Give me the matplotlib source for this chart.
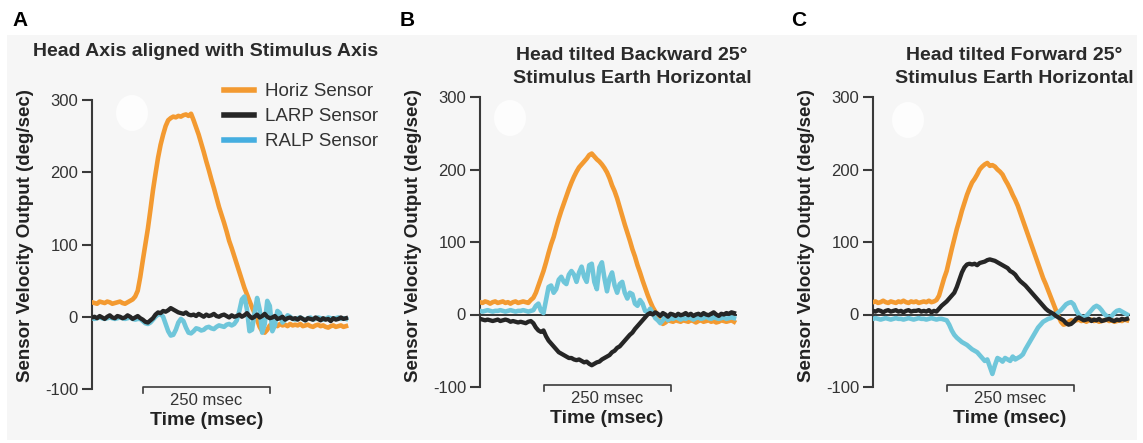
import numpy as np
import matplotlib
matplotlib.use('Agg')
import matplotlib.pyplot as plt
from matplotlib.lines import Line2D
from matplotlib.patches import Rectangle, Ellipse

plt.rcParams['font.family'] = ['Liberation Sans', 'DejaVu Sans']
plt.rcParams['axes.unicode_minus'] = False

# sample times (msec), one value every 5 ms
time_ms = np.arange(0, 505, 5)

# Panel A: head axis aligned with stimulus axis
horiz_a = [20, 19, 18, 21, 20, 19, 21, 20, 18, 19, 20, 21, 19, 18, 20, 22, 24, 28, 36, 55,
           78, 100, 122, 148, 175, 198, 220, 238, 252, 264, 272, 275, 277, 276, 278, 277, 279, 280, 278, 281,
           272, 262, 252, 240, 228, 215, 203, 190, 178, 165, 152, 141, 130, 118, 105, 95, 84, 73, 62, 51,
           40, 31, 22, 13, 5, -4, -14, -20, -22, -18, -12, -10, -11, -13, -10, -12, -11, -13, -10, -12,
           -11, -12, -10, -13, -12, -11, -13, -14, -12, -11, -13, -12, -14, -15, -13, -12, -14, -13, -12, -14, -13]
larp_a = [-1, 0, -2, 1, -1, -3, 0, 2, -1, -2, 1, 0, -2, -1, 2, 0, -3, -1, 1, -2,
          -4, -7, -8, -5, -2, 3, 6, 5, 8, 7, 9, 12, 10, 8, 6, 5, 4, 6, 3, 2,
          3, 1, 4, 2, 0, 3, 1, 2, 4, 1, 0, 2, 3, 1, -1, 2, 0, 1, 3, 0,
          2, 5, 1, -2, 0, 3, -1, 1, 4, 0, -2, -1, 1, -3, -2, 0, -4, -2, -1, -3,
          -2, -4, -1, -3, -5, -2, -3, -4, -1, -3, -5, -2, -4, -3, -6, -2, -4, -3, -1, -3, -2]
ralp_a = [-2, -3, -2, -1, -2, -3, -2, -1, -2, -3, -2, -1, -2, -3, -2, -1, -3, -4, -3, -3,
          -6, -9, -10, -8, -4, 0, 3, 4, 0, -10, -20, -26, -25, -18, -8, -3, -6, -15, -22, -23,
          -20, -16, -17, -19, -18, -15, -14, -16, -17, -14, -12, -13, -14, -11, -10, -12, -10, -5, 8, 24,
          28, 10, -20, -18, 5, 26, 10, -22, -10, 22, 15, -20, -12, 8, 5, -8, -4, 2, 0, -3,
          -4, -2, -1, -3, -5, -2, -1, -4, -3, -1, -2, -4, -3, -1, -2, -3, -2, -1, -3, -2, -3]

# Panel B: head tilted backward 25 deg
horiz_b = [17, 16, 18, 17, 15, 17, 18, 16, 17, 18, 16, 17, 15, 17, 18, 16, 17, 18, 17, 16,
           20, 23, 30, 40, 50, 60, 72, 85, 97, 107, 120, 132, 143, 153, 163, 173, 182, 190, 197, 203,
           207, 211, 215, 220, 222, 218, 214, 211, 207, 202, 196, 188, 178, 170, 160, 148, 136, 124, 113, 102,
           90, 80, 68, 58, 47, 37, 27, 18, 10, 4, -3, -10, -13, -11, -8, -9, -10, -8, -9, -10,
           -8, -9, -10, -8, -9, -11, -9, -8, -10, -9, -8, -10, -9, -11, -10, -8, -9, -10, -9, -8, -10]
larp_b = [-6, -7, -8, -7, -8, -9, -8, -7, -9, -8, -7, -8, -10, -9, -10, -11, -10, -11, -12, -10,
          -9, -12, -18, -22, -24, -22, -30, -36, -40, -44, -48, -52, -54, -56, -58, -60, -60, -62, -63, -62,
          -64, -66, -65, -68, -70, -68, -66, -65, -62, -60, -58, -56, -52, -50, -46, -44, -40, -36, -32, -28,
          -25, -20, -16, -12, -8, -4, 0, 2, 0, 3, 1, -2, 2, 0, -3, 1, 0, -2, 1, -1,
          0, 2, -1, 1, -2, 0, 1, -1, 2, 0, -1, 1, 3, 0, -2, 1, 0, 2, 1, 3, 2]
ralp_b = [5, 4, 5, 6, 5, 4, 5, 5, 6, 5, 4, 5, 6, 5, 4, 5, 5, 6, 5, 4,
          5, 6, 12, 15, 5, 2, 20, 38, 40, 30, 35, 48, 52, 45, 42, 55, 60, 55, 45, 58,
          66, 52, 45, 68, 70, 45, 35, 65, 72, 50, 32, 50, 58, 40, 30, 42, 45, 30, 22, 30,
          28, 15, 12, 20, 15, 5, 3, 8, 2, -5, -8, -12, -8, -3, -8, -5, -6, -4, -5, -7,
          -5, -6, -4, -5, -7, -5, -4, -6, -5, -3, -5, -6, -4, -5, -6, -5, -4, -6, -5, -4, -5]

# Panel C: head tilted forward 25 deg
horiz_c = [17, 18, 16, 17, 19, 17, 16, 18, 17, 16, 18, 17, 19, 17, 16, 18, 17, 18, 16, 17,
           18, 17, 19, 17, 18, 20, 26, 38, 50, 60, 75, 90, 104, 118, 130, 143, 154, 165, 174, 182,
           187, 193, 200, 204, 207, 209, 205, 206, 204, 200, 197, 193, 186, 180, 173, 165, 158, 150, 140, 130,
           120, 110, 100, 90, 80, 70, 60, 50, 42, 33, 24, 15, 6, -2, -10, -14, -13, -10, -8, -9,
           -8, -7, -9, -8, -10, -8, -7, -9, -8, -10, -9, -8, -7, -9, -8, -10, -9, -8, -9, -7, -8]
larp_c = [5, 4, 6, 5, 3, 5, 6, 4, 5, 6, 4, 5, 3, 5, 6, 4, 5, 5, 6, 4,
          5, 4, 6, 3, 5, 4, 8, 12, 15, 18, 22, 26, 30, 38, 48, 58, 65, 69, 70, 69,
          70, 68, 71, 72, 73, 75, 76, 75, 74, 72, 70, 68, 66, 64, 60, 58, 55, 50, 46, 43,
          40, 36, 32, 28, 24, 20, 16, 12, 8, 5, 3, 1, -2, -4, -6, -8, -12, -14, -13, -10,
          -6, -4, -6, -8, -7, -6, -9, -7, -8, -6, -9, -8, -7, -6, -8, -9, -7, -8, -6, -7, -6]
ralp_c = [-6, -5, -6, -7, -6, -5, -6, -7, -6, -5, -6, -6, -7, -6, -5, -6, -7, -6, -5, -6,
          -6, -7, -6, -5, -6, -7, -6, -6, -7, -8, -14, -22, -28, -32, -35, -38, -40, -42, -45, -48,
          -50, -52, -56, -60, -64, -62, -72, -82, -70, -60, -62, -65, -60, -62, -64, -58, -62, -60, -58, -55,
          -48, -42, -36, -30, -24, -18, -14, -10, -8, -6, -5, -3, 0, 3, 6, 10, 14, 16, 17, 14,
          6, 0, -3, -4, -2, 2, 6, 10, 12, 10, 6, 1, -2, -4, -2, 2, 5, 6, 4, 2, 0]

yticks = [-100, 0, 100, 200, 300]
titles = ['Head Axis aligned with Stimulus Axis',
          'Head tilted Backward 25\u00b0\nStimulus Earth Horizontal',
          'Head tilted Forward 25\u00b0\nStimulus Earth Horizontal']
letters = ['A', 'B', 'C']
legend_labels = ['Horiz Sensor', 'LARP Sensor', 'RALP Sensor']
scale_bar_start = [100, 125, 145]   # msec where the 250 msec bar starts

ORANGE = '#f39a31'
CYAN = '#6fc6da'
DARK = '#262626'
LEG_BLUE = '#45aee0'
GREY = '#3a3a3a'

W, H = 1143, 443
fig = plt.figure(figsize=(W / 100, H / 100), dpi=100)
fig.patch.set_facecolor('white')

# light grey backdrop of the figure
fig.add_artist(Rectangle((7 / W, 3 / H), 1130 / W, 405 / H, transform=fig.transFigure,
                         facecolor='#f6f6f6', edgecolor='none', zorder=0))
# faint white spots in the scan
for cx, cy in [(132, 113), (510, 118), (908, 120)]:
    fig.add_artist(Ellipse((cx / W, 1 - cy / H), 32 / W, 36 / H, transform=fig.transFigure,
                           facecolor='#fdfdfd', edgecolor='none', zorder=0.5))

# left, top, bottom in pixels, centre x of title, letter x
boxes = [(92, 100, 389, 206, 20), (480, 97, 387, 632, 407), (873, 97, 387, 1014, 799)]
data = [(horiz_a, larp_a, ralp_a), (horiz_b, larp_b, ralp_b), (horiz_c, larp_c, ralp_c)]
PX_PER_MS = 0.508
XMAX = 510

for i in range(3):
    left, top, bottom, tx, lx = boxes[i]
    horiz, larp, ralp = data[i]
    width = XMAX * PX_PER_MS
    ax = fig.add_axes([left / W, 1 - bottom / H, width / W, (bottom - top) / H])
    ax.set_facecolor('none')

    if i > 0:
        ax.hlines(0, 0, 505, color='black', lw=1.1, zorder=2)
    ax.plot(time_ms, horiz, color=ORANGE, lw=3.3, zorder=3)
    ax.plot(time_ms, ralp, color=CYAN, lw=3.3, zorder=4)
    ax.plot(time_ms, larp, color=DARK, lw=3.1, zorder=5)

    ax.set_xlim(0, XMAX)
    ax.set_ylim(-100, 300)
    ax.set_yticks(yticks)
    ax.set_xticks([])
    for s in ['top', 'right', 'bottom']:
        ax.spines[s].set_visible(False)
    ax.spines['left'].set_color(GREY)
    ax.spines['left'].set_linewidth(1.5)
    ax.tick_params(axis='y', direction='out', length=7, width=1.5, colors=GREY,
                   labelsize=12, pad=3)
    for lab in ax.get_yticklabels():
        lab.set_color('#333333')

    ax.set_ylabel('Sensor Velocity Output (deg/sec)', fontsize=13.5, fontweight='bold',
                  color='#222222')
    ax.yaxis.set_label_coords((-58) / width, (bottom - 236) / (bottom - top))

    # 250 msec scale bar
    t0 = scale_bar_start[i]
    t1 = t0 + 250
    ax.plot([t0, t0, t1, t1], [-106, -97, -97, -106], color=GREY, lw=1.2, clip_on=False)
    ax.text((t0 + t1) / 2, -116, '250 msec', ha='center', va='center', fontsize=12,
            color='#333333', clip_on=False)
    ax.text((t0 + t1) / 2, -143, 'Time (msec)', ha='center', va='center', fontsize=14,
            fontweight='bold', color='#222222', clip_on=False)

    fig.text(tx / W, 1 - 67 / H if i > 0 else 1 - 52 / H, titles[i], ha='center', va='center',
             fontsize=14, fontweight='bold', color='#2a2a2a', linespacing=1.45)
    fig.text(lx / W, 1 - 20 / H, letters[i], ha='center', va='center', fontsize=15,
             fontweight='bold', color='black')

    if i == 0:
        handles = [Line2D([], [], color=ORANGE, lw=4),
                   Line2D([], [], color=DARK, lw=4),
                   Line2D([], [], color=LEG_BLUE, lw=4)]
        leg = ax.legend(handles, legend_labels, loc='upper left',
                        bbox_to_anchor=(224 / W, 1 - 83 / H), bbox_transform=fig.transFigure,
                        frameon=False, fontsize=13.5, handlelength=1.6, handletextpad=0.6,
                        labelspacing=0.42, borderpad=0, borderaxespad=0)
        for t in leg.get_texts():
            t.set_color('#333333')

fig.savefig('out.png', dpi=100, facecolor='white')
